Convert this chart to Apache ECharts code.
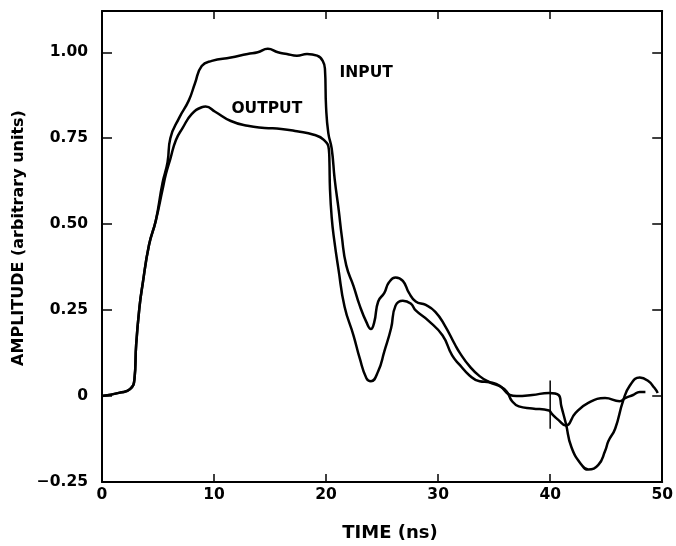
<!DOCTYPE html>
<html>
<head>
<meta charset="utf-8">
<script src="https://cdn.jsdelivr.net/npm/echarts@6/dist/echarts.min.js"></script>
<style>html,body{margin:0;padding:0;background:#fff}#c{width:676px;height:546px}</style>
</head>
<body>
<div id="c"></div>
<script>
// Time axis (ns) and amplitude (arbitrary units)
const xTicks = [0, 10, 20, 30, 40, 50];
const yTicks = [-0.25, 0, 0.25, 0.5, 0.75, 1.0];

// INPUT pulse: [time ns, amplitude]
const inputData = [
  [0,0],[1.6,0.01],[2.5,0.02],[2.9,0.05],[3.05,0.15],[3.35,0.26],[3.6,0.32],[4.2,0.44],
  [4.8,0.51],[5.4,0.62],[5.85,0.68],[6.1,0.75],[6.9,0.81],[7.75,0.86],[8.3,0.91],[8.9,0.96],
  [9.8,0.975],[11.5,0.985],[13,0.995],[13.9,1.0],[14.8,1.01],[15.7,1.0],[16.5,0.995],[17.4,0.99],
  [18.3,0.995],[19.2,0.99],[19.7,0.975],[19.9,0.95],[20.0,0.84],[20.2,0.765],[20.5,0.72],
  [20.77,0.63],[21.13,0.54],[21.4,0.465],[21.8,0.38],[22.45,0.32],[22.98,0.265],[23.6,0.215],
  [24.0,0.195],[24.3,0.215],[24.65,0.275],[25.2,0.30],[25.6,0.33],[26.2,0.345],[26.85,0.335],
  [27.4,0.30],[28.0,0.275],[28.9,0.265],[29.75,0.245],[30.6,0.205],[31.5,0.15],[31.95,0.125],
  [32.8,0.087],[33.7,0.058],[34.6,0.04],[35.4,0.03],[36.1,0.014],[36.6,-0.015],[37.2,-0.03],
  [38.4,-0.036],[39.9,-0.042],[40.1,-0.05],[40.75,-0.07],[41.4,-0.086],[42.25,-0.05],
  [43.4,-0.02],[44.9,-0.006],[46.2,-0.015],[46.7,-0.006],[47.4,0.003],[48.0,0.012],[48.5,0.012]
];

// OUTPUT pulse: [time ns, amplitude]
const outputData = [
  [0,0],[1.6,0.01],[2.5,0.02],[2.9,0.05],[3.05,0.15],[3.35,0.26],[3.6,0.32],[4.2,0.44],
  [4.8,0.51],[5.4,0.6],[5.7,0.645],[6.1,0.69],[6.6,0.745],[7.2,0.78],[8.0,0.82],[8.9,0.84],
  [9.25,0.842],[10.1,0.827],[11.5,0.80],[13.0,0.786],[14.5,0.78],[16,0.777],[17.4,0.77],
  [18.9,0.76],[19.8,0.745],[20.25,0.717],[20.3,0.68],[20.35,0.60],[20.5,0.52],[20.7,0.46],
  [21.1,0.37],[21.65,0.26],[22.45,0.176],[23.0,0.11],[23.6,0.052],[24.0,0.043],[24.65,0.072],
  [25.2,0.13],[25.8,0.197],[26.2,0.263],[26.85,0.277],[27.55,0.269],[28.0,0.249],[29.1,0.22],
  [30.4,0.176],[31.25,0.118],[31.95,0.09],[32.8,0.06],[33.7,0.043],[34.6,0.04],[35.5,0.03],
  [36.4,0.003],[37.0,0.0],[38.4,0.003],[39.9,0.009],[40.75,0.003],[41.0,-0.03],[41.4,-0.08],
  [41.9,-0.149],[42.8,-0.2],[43.4,-0.214],[44.3,-0.2],[44.9,-0.16],[45.2,-0.131],[45.8,-0.095],
  [46.5,-0.015],[47.1,0.03],[48.0,0.054],[48.7,0.045],[49.3,0.024],[49.6,0.009]
];

// Short vertical marker at t = 40 ns
const markerData = [[40, 0.045], [40, -0.095]];

// Curve labels
const curveLabels = [
  {name: 'INPUT', value: [21.2, 0.94]},
  {name: 'OUTPUT', value: [11.55, 0.835]}
];

const FONT = 'DejaVu Sans';
const black = '#000';
const fmtY = v => {
  if (!yTicks.some(t => Math.abs(t - v) < 1e-9)) return '';
  if (Math.abs(v) < 1e-9) return '0';
  return (v < 0 ? '\u2212' : '') + Math.abs(v).toFixed(2);
};
const fmtX = v => xTicks.indexOf(v) >= 0 ? String(v) : '';

const chart = echarts.init(document.getElementById('c'), null, {renderer: 'canvas'});
const axisLine = {show: true, onZero: false, lineStyle: {color: black, width: 2}};
chart.setOption({
  animation: false,
  backgroundColor: '#fff',
  grid: {left: 102, right: 6, top: 11, bottom: 64},
  xAxis: [
    {type: 'value', min: 0, max: 50, interval: 10, position: 'bottom',
     axisLine: axisLine, splitLine: {show: false},
     axisTick: {inside: true, length: 8, lineStyle: {color: black, width: 1.5}},
     axisLabel: {formatter: fmtX, margin: 5, color: black, fontFamily: FONT, fontWeight: 'bold', fontSize: 15.5}},
    {type: 'value', min: 0, max: 50, interval: 10, position: 'top',
     axisLine: axisLine, splitLine: {show: false},
     axisTick: {inside: true, length: 8, lineStyle: {color: black, width: 1.5}},
     axisLabel: {show: false}}
  ],
  yAxis: [
    {type: 'value', min: -0.25, max: 1.12, interval: 0.25, position: 'left',
     axisLine: axisLine, splitLine: {show: false},
     axisTick: {inside: true, length: 10, lineStyle: {color: black, width: 1.5}},
     axisLabel: {formatter: fmtY, showMaxLabel: false, margin: 14, color: black, fontFamily: FONT, fontWeight: 'bold', fontSize: 15.5}},
    {type: 'value', min: -0.25, max: 1.12, interval: 0.25, position: 'right',
     axisLine: axisLine, splitLine: {show: false},
     axisTick: {inside: true, length: 10, lineStyle: {color: black, width: 1.5}},
     axisLabel: {show: false}}
  ],
  graphic: [
    {type: 'text', x: 390, y: 533, style: {text: 'TIME (ns)', font: 'bold 18px "DejaVu Sans"', fill: black, textAlign: 'center', textVerticalAlign: 'middle'}},
    {type: 'text', x: 19, y: 238, rotation: Math.PI / 2, style: {text: 'AMPLITUDE (arbitrary units)', font: 'bold 16px "DejaVu Sans"', fill: black, textAlign: 'center', textVerticalAlign: 'middle'}}
  ],
  series: [
    {name: 'INPUT', type: 'line', data: inputData, showSymbol: false, smooth: 0.5,
     lineStyle: {color: black, width: 2.5}},
    {name: 'OUTPUT', type: 'line', data: outputData, showSymbol: false, smooth: 0.5,
     lineStyle: {color: black, width: 2.5}},
    {name: 'marker', type: 'line', data: markerData, showSymbol: false,
     lineStyle: {color: black, width: 1.5}},
    {name: 'labels', type: 'scatter', data: curveLabels, symbolSize: 0,
     itemStyle: {opacity: 1}, emphasis: {disabled: true},
     label: {show: true, position: 'right', distance: 0, formatter: p => p.name,
             color: black, fontFamily: FONT, fontWeight: 'bold', fontSize: 15.5}}
  ]
});
</script>
</body>
</html>
